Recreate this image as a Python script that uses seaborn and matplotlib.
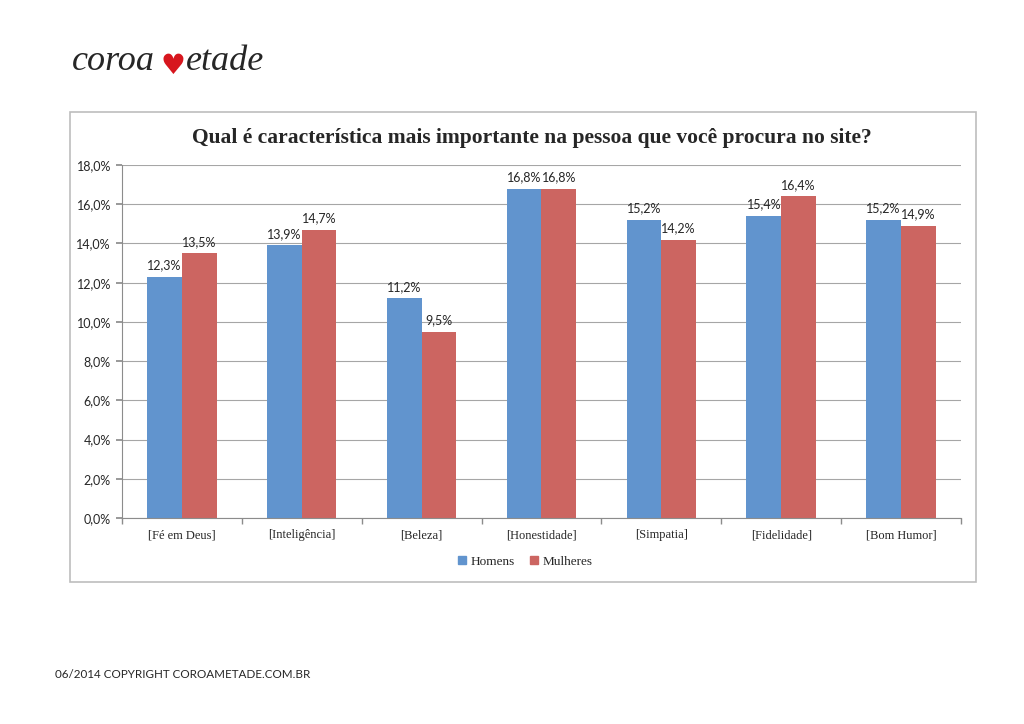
import matplotlib
matplotlib.use("Agg")
import matplotlib.pyplot as plt
import matplotlib.patches as mpatches
import pandas as pd
import seaborn as sns

# dados
categorias = ['[Fé em Deus]', '[Inteligência]', '[Beleza]', '[Honestidade]',
              '[Simpatia]', '[Fidelidade]', '[Bom Humor]']
homens = [12.3, 13.9, 11.2, 16.8, 15.2, 15.4, 15.2]
mulheres = [13.5, 14.7, 9.5, 16.8, 14.2, 16.4, 14.9]
series = ['Homens', 'Mulheres']
cores = ['#6194CE', '#CC6561']
yticks = [0, 2, 4, 6, 8, 10, 12, 14, 16, 18]

df = pd.DataFrame({
    'categoria': categorias * 2,
    'valor': homens + mulheres,
    'sexo': ['Homens'] * len(categorias) + ['Mulheres'] * len(categorias),
})

sns.set_theme(style="white")
serif = ['Liberation Serif', 'DejaVu Serif']
sans = ['Lato', 'DejaVu Sans']
plt.rcParams['font.family'] = sans

fig = plt.figure(figsize=(10.24, 7.24), dpi=100)

# moldura do grafico
fig.patches.append(mpatches.Rectangle((0.0684, 0.1961), 0.8848, 0.6492,
                                      transform=fig.transFigure, fill=False,
                                      edgecolor='#BDBDBD', linewidth=1.2))

ax = fig.add_axes([0.1191, 0.2845, 0.8193, 0.4876])
sns.barplot(data=df, x='categoria', y='valor', hue='sexo', palette=cores,
            hue_order=series, width=0.58, saturation=1, linewidth=0,
            ax=ax, legend=False)

ax.set_ylim(0, 18)
ax.set_xlim(-0.5, len(categorias) - 0.5)
ax.set_yticks(yticks)
ax.set_yticklabels([f'{v:.1f}%'.replace('.', ',') for v in yticks], fontsize=9)
ax.set_xticks(range(len(categorias)))
ax.set_xticklabels(categorias, fontsize=9, family=serif)
ax.set_xticks([i - 0.5 for i in range(len(categorias) + 1)], minor=True)
ax.tick_params(axis='x', which='major', length=0, pad=8)
ax.tick_params(axis='x', which='minor', length=4, color='#8C8C8C', direction='out', bottom=True)
ax.tick_params(axis='y', length=4, color='#8C8C8C', direction='out', left=True, pad=4)
ax.yaxis.grid(True, color='#A6A6A6', linewidth=0.8)
ax.set_axisbelow(True)
ax.set_xlabel('')
ax.set_ylabel('')
for s in ['top', 'right']:
    ax.spines[s].set_visible(False)
for s in ['left', 'bottom']:
    ax.spines[s].set_color('#8C8C8C')
    ax.spines[s].set_linewidth(0.8)

for cont in ax.containers:
    ax.bar_label(cont, labels=[f'{v:.1f}%'.replace('.', ',') for v in cont.datavalues],
                 fontsize=9, padding=4)

# titulo
fig.text(0.5195, 0.809, 'Qual é característica mais importante na pessoa que você procura no site?',
         ha='center', va='center', fontsize=15.5, fontweight='bold', family=serif)

# legenda
handles = [mpatches.Patch(color=c, label=s) for c, s in zip(cores, series)]
fig.legend(handles=handles, loc='center', bbox_to_anchor=(0.513, 0.224), ncol=2,
           frameon=False, prop={'family': serif, 'size': 9.5}, handlelength=0.6,
           handleheight=0.6, handletextpad=0.3, columnspacing=1.2)

# logotipo
fig.text(0.070, 0.915, 'coroa', fontsize=26, style='italic', family=serif, va='center')
fig.text(0.157, 0.909, '♥', fontsize=20, color='#D7161E', family=['DejaVu Sans'], va='center')
fig.text(0.182, 0.915, 'etade', fontsize=26, style='italic', family=serif, va='center')

# rodape
fig.text(0.054, 0.068, '06/2014 COPYRIGHT COROAMETADE.COM.BR', fontsize=8.4, va='center')

fig.savefig('out.png', dpi=100)
